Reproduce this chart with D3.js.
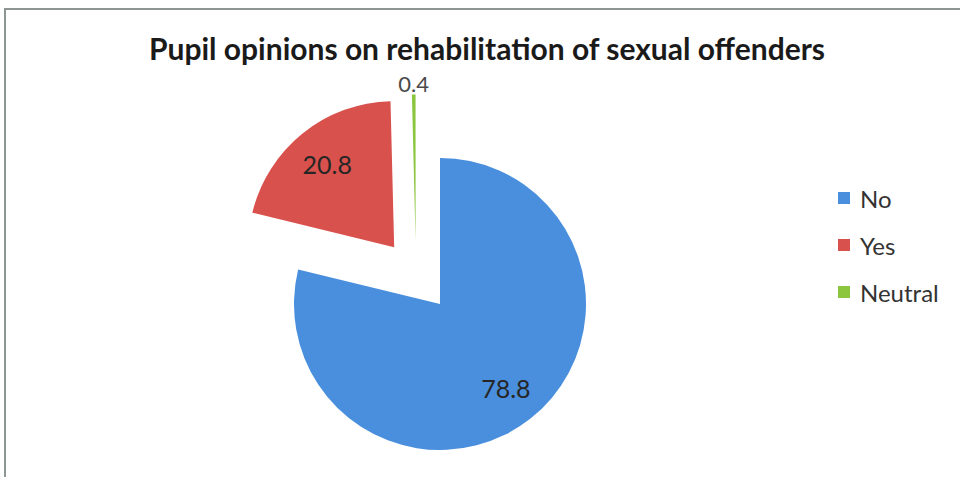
<!DOCTYPE html>
<html>
<head>
<meta charset="utf-8">
<script src="https://cdn.jsdelivr.net/npm/d3@7"></script>
<style>
  html, body { margin: 0; padding: 0; background: #ffffff; }
  svg { display: block; }
</style>
</head>
<body>
<svg id="chart" width="960" height="477"></svg>
<script>
// Survey answers (percent of pupils)
const categories = ["No", "Yes", "Neutral"];
const values = [78.8, 20.8, 0.4];
const colors = ["#4a8fdd", "#d9514c", "#8cc63f"];
const chartTitle = "Pupil opinions on rehabilitation of sexual offenders";

const width = 960, height = 477;
const svg = d3.select("#chart");

// chart frame
svg.append("rect")
  .attr("x", 5).attr("y", 9)
  .attr("width", width + 10).attr("height", height + 10)
  .attr("fill", "#ffffff")
  .attr("stroke", "#8e9595").attr("stroke-width", 2);

svg.append("text")
  .attr("x", 487).attr("y", 60)
  .attr("text-anchor", "middle")
  .attr("font-family", "Lato, 'Open Sans', sans-serif")
  .attr("font-weight", "bold")
  .attr("font-size", 30)
  .attr("fill", "#1a1a1a")
  .text(chartTitle);

const cx = 440, cy = 304, radius = 146;

const pie = d3.pie().sort(null).value(d => d)(values);
const arc = d3.arc().innerRadius(0).outerRadius(radius);

// exploded slices: distance and direction (radians, clockwise from 12 o'clock)
function explode(d, i) {
  if (i === 0) return [0, 0];
  const mid = (d.startAngle + d.endAngle) / 2;
  const dist = i === 1 ? 73 : 68;
  const ang = i === 1 ? mid : mid - 0.355;
  return [Math.sin(ang) * dist, -Math.cos(ang) * dist];
}

const g = svg.append("g").attr("transform", `translate(${cx},${cy})`);

const slices = g.selectAll("g.slice")
  .data(pie)
  .join("g")
  .attr("class", "slice")
  .attr("transform", (d, i) => {
    const [dx, dy] = explode(d, i);
    return `translate(${dx},${dy})`;
  });

slices.append("path")
  .attr("d", arc)
  .attr("fill", (d, i) => colors[i]);

// value labels
slices.append("text")
  .attr("transform", (d, i) => {
    const mid = (d.startAngle + d.endAngle) / 2;
    const rr = i === 2 ? radius + 11 : radius * 0.73;
    return `translate(${Math.sin(mid) * rr},${-Math.cos(mid) * rr})`;
  })
  .attr("text-anchor", "middle")
  .attr("dominant-baseline", "central")
  .attr("font-family", "Lato, 'Open Sans', sans-serif")
  .attr("font-size", (d, i) => i === 2 ? 22 : 25)
  .attr("fill", (d, i) => i === 2 ? "#4a4a4a" : "#262626")
  .text(d => d.data);

// legend
const legend = svg.append("g").attr("transform", "translate(838,192)");
const items = legend.selectAll("g")
  .data(categories)
  .join("g")
  .attr("transform", (d, i) => `translate(0,${i * 47})`);
items.append("rect")
  .attr("width", 12).attr("height", 12)
  .attr("fill", (d, i) => colors[i]);
items.append("text")
  .attr("x", 22).attr("y", 6)
  .attr("dominant-baseline", "central")
  .attr("font-family", "Lato, 'Open Sans', sans-serif")
  .attr("font-size", 24)
  .attr("fill", "#333333")
  .text(d => d);
</script>
</body>
</html>
